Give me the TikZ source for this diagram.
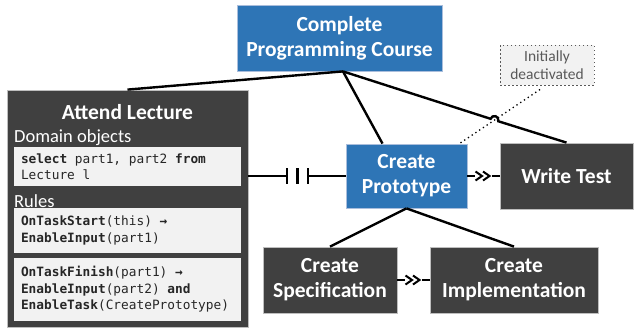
\documentclass[tikz,border=0pt]{standalone}
\usepackage{fontspec}
\setmainfont{Carlito}
\setmonofont{DejaVu Sans Mono}
\usepackage{xcolor}
\usepackage{tikz}

\definecolor{taskblue}{RGB}{46,117,182}
\definecolor{taskdark}{RGB}{64,64,64}
\definecolor{boxgray}{RGB}{242,242,242}
\definecolor{notegray}{RGB}{89,89,89}

\newcommand\codefont{\ttfamily\fontsize{12.8}{16.5}\selectfont}

\tikzset{
  bluetask/.style={draw={rgb,255:red,170;green,190;blue,220},line width=0.8,fill=taskblue,text=white,align=center,inner sep=0,
    font=\bfseries\fontsize{21.5}{25}\selectfont},
  darktask/.style={draw={rgb,255:red,190;green,190;blue,190},line width=0.8,fill=taskdark,text=white,align=center,inner sep=0,
    font=\bfseries\fontsize{21.5}{25}\selectfont},
  codebox/.style={fill=boxgray,text={rgb,255:red,38;green,38;blue,38},minimum width=227,text width=213,inner xsep=7,inner ysep=0,align=left,
    font=\codefont,execute at begin node={\spaceskip=7.7pt\xspaceskip=7.7pt\relax}},
  seclabel/.style={anchor=west,inner sep=0,text=white,font=\fontsize{18.5}{20}\selectfont},
  conn/.style={line width=2.4},
  twochev/.pic={\fill[white] (-9,-7) rectangle (8,7);
    \draw[line width=2,line cap=butt] (-8,-4.5) -- (-1.5,0) -- (-8,4.5) (-0.5,-4.5) -- (6,0) -- (-0.5,4.5);}
}

\begin{document}
\begin{tikzpicture}[x=1pt,y=-1pt]
\useasboundingbox (0,0) rectangle (638,330);

%Shape: Rectangle [course]
\node[bluetask,minimum width=205,minimum height=66] (course) at (339.5,38) {Complete\\Programming Course};

%Shape: Rectangle [lecture]
\node[darktask,minimum width=241,minimum height=237] (lecture) at (127.5,208.5) {};
% Text Node
\node[inner sep=0,text=white,font=\bfseries\fontsize{21.5}{25}\selectfont] (lecturetitle) at (127.5,112) {Attend Lecture};
% Text Node
\node[seclabel] (domlabel) at (14,138) {Domain objects};
\node[codebox,minimum height=39] (dombox) at (127.5,166.5) {\textbf{select} part1, part2 \textbf{from}\\Lecture l};
% Text Node
\node[seclabel] (rulelabel) at (14,201) {Rules};
\node[codebox,minimum height=45] (ruleone) at (127.5,230.5) {\textbf{OnTaskStart}(this) \textbf{→}\\\textbf{EnableInput}(part1)};
\node[codebox,minimum height=63] (ruletwo) at (127.5,289.5) {\textbf{OnTaskFinish}(part1) \textbf{→}\\\textbf{EnableInput}(part2) \textbf{and}\\\textbf{EnableTask}(CreatePrototype)};

%Shape: Rectangle [proto]
\node[bluetask,minimum width=121,minimum height=64] (proto) at (406.5,176) {Create\\Prototype};
%Shape: Rectangle [test]
\node[darktask,minimum width=133,minimum height=66] (test) at (566.5,176) {Write Test};
%Shape: Rectangle [spec]
\node[darktask,minimum width=134,minimum height=66] (spec) at (330,280) {Create\\Specification};
%Shape: Rectangle [impl]
\node[darktask,minimum width=168,minimum height=66] (impl) at (514,280) {Create\\Implementation};

%Shape: Rectangle [note]
\node[draw=notegray,line width=1,dash pattern=on 1.5pt off 2.5pt,fill=boxgray,text=notegray,align=center,inner sep=0,
  minimum width=94,minimum height=40,font=\fontsize{15.5}{18}\selectfont] (note) at (547,65) {Initially\\deactivated};

% Connectors
\coordinate (hub) at ([xshift=3.5]course.south);
\coordinate (jump) at (490.6,118.8);
\coordinate (bar1) at (287,176);
\coordinate (bar2) at (297.5,176);
\coordinate (bar3) at (308,176);

\draw[conn] (hub) -- (lecture.north);
\draw[conn] (hub) -- ([xshift=-24]proto.north);
\draw[conn] (hub) -- (jump) arc[start angle=197.6,delta angle=180,radius=4] -- (test.north);

\draw[conn] (proto.west -| lecture.east) -- (bar1);
\draw[conn] (bar3) -- (proto.west);
\foreach \b in {bar1,bar2,bar3}
  \draw[conn] ([yshift=8]\b) -- ([yshift=-8]\b);

\draw[conn] (proto.east) -- (test.west) pic[midway]{twochev};
\draw[conn] (spec.east) -- (impl.west) pic[midway]{twochev};

\draw[conn] (proto.south) -- (spec.north);
\draw[conn] (proto.south) -- (impl.north);

\draw[line width=1.3,dash pattern=on 1.3pt off 3.2pt] ([xshift=-7,yshift=-4]note.south) -- ([xshift=-8]proto.north east);

\end{tikzpicture}
\end{document}
